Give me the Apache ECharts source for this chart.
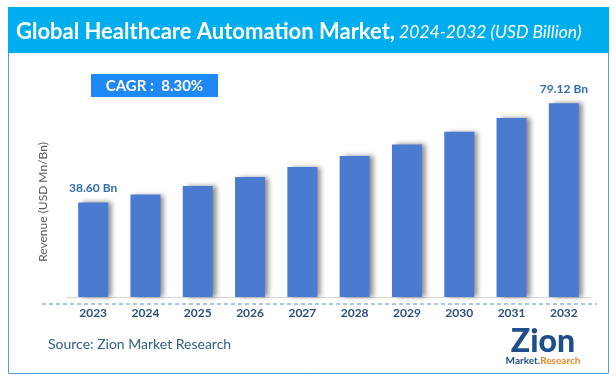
<!DOCTYPE html>
<html><head><meta charset="utf-8">
<script src="https://cdn.jsdelivr.net/npm/echarts@6/dist/echarts.min.js"></script>
<style>html,body{margin:0;padding:0;background:#fff}#c{width:616px;height:382px}</style>
</head><body><div id="c"></div>
<script>
const years = ['2023','2024','2025','2026','2027','2028','2029','2030','2031','2032'];
const revenue = [38.60, 41.80, 45.27, 49.03, 53.10, 57.51, 62.28, 67.45, 73.05, 79.12];
const labelled = {0: '38.60 Bn', 9: '79.12 Bn'};
const titleMain = 'Global Healthcare Automation Market,';
const titleSub = ' 2024-2032 (USD Billion)';
const cagrText = 'CAGR :  8.30%';
const yAxisName = 'Revenue (USD Mn/Bn)';
const sourceText = 'Source: Zion Market Research';

const chart = echarts.init(document.getElementById('c'), null, {renderer: 'canvas'});
const FONT = 'Lato';
chart.setOption({
  animation: false,
  backgroundColor: '#fff',
  grid: {left: 67, right: 26, top: 52, bottom: 85},
  xAxis: {
    type: 'category', data: years,
    axisLine: {show: true, lineStyle: {color: '#d9d9d9', width: 1}},
    axisTick: {show: false},
    axisLabel: {margin: 10, color: '#2F4F7F', fontWeight: 'bold', fontSize: 12, fontFamily: FONT}
  },
  yAxis: {
    type: 'value', min: 0, max: 100,
    axisLine: {show: false}, axisTick: {show: false}, axisLabel: {show: false},
    splitLine: {show: false}
  },
  series: [{
    type: 'bar', data: revenue, barWidth: 30,
    itemStyle: {color: '#4A7BD0', shadowColor: 'rgba(0,0,0,0.45)', shadowBlur: 5, shadowOffsetX: 4, shadowOffsetY: 0},
    label: {
      show: true, position: 'top', distance: 8,
      formatter: p => labelled[p.dataIndex] || '',
      color: '#2E6DB4', fontWeight: 'bold', fontSize: 12, fontFamily: FONT
    }
  }],
  graphic: [
    {type: 'rect', shape: {x: 8.5, y: 7.5, width: 600, height: 366}, style: {fill: null, stroke: '#5B9BD5', lineWidth: 1}, z: 0},
    {type: 'rect', shape: {x: 8, y: 7, width: 601, height: 46}, style: {fill: '#00AEEF'}, z: 1},
    {type: 'text', x: 16, y: 32, style: {
      text: '{a|' + titleMain + '}{b|' + titleSub + '}',
      verticalAlign: 'middle',
      rich: {
        a: {fill: '#fff', fontSize: 22, fontWeight: 'bold', fontFamily: FONT},
        b: {fill: '#fff', fontSize: 17.5, fontStyle: 'italic', fontFamily: FONT}
      }
    }, z: 2},
    {type: 'text', x: 43, y: 202, rotation: Math.PI / 2, style: {text: yAxisName, fill: '#595959', fontSize: 12, fontFamily: FONT, align: 'center', verticalAlign: 'middle'}, z: 2},
    {type: 'rect', shape: {x: 91, y: 74, width: 127, height: 23}, style: {fill: '#1E88F5'}, z: 2},
    {type: 'text', x: 154.5, y: 86, style: {text: cagrText, fill: '#fff', fontSize: 15, fontWeight: 'bold', fontFamily: FONT, align: 'center', verticalAlign: 'middle'}, z: 3},
    {type: 'line', shape: {x1: 42, y1: 304, x2: 597, y2: 304}, style: {stroke: '#5B8FD0', lineWidth: 1, lineDash: [4, 3]}, z: 2},
    {type: 'text', x: 48, y: 344, style: {text: sourceText, fill: '#2E5F8A', fontSize: 14, fontFamily: FONT, verticalAlign: 'middle'}, z: 2},
    {type: 'text', x: 543, y: 342, style: {text: 'Zion', fill: '#1F4E8C', fontSize: 32, fontWeight: 900, fontFamily: FONT, align: 'center', verticalAlign: 'middle'}, z: 2},
    {type: 'text', x: 543, y: 361, style: {
      text: '{m|Market.}{r|Research}', align: 'center', verticalAlign: 'middle',
      rich: {m: {fill: '#1F4E8C', fontSize: 10, fontWeight: 'bold', fontFamily: FONT}, r: {fill: '#E8862A', fontSize: 10, fontWeight: 'bold', fontFamily: FONT}}
    }, z: 2}
  ]
});
</script></body></html>
